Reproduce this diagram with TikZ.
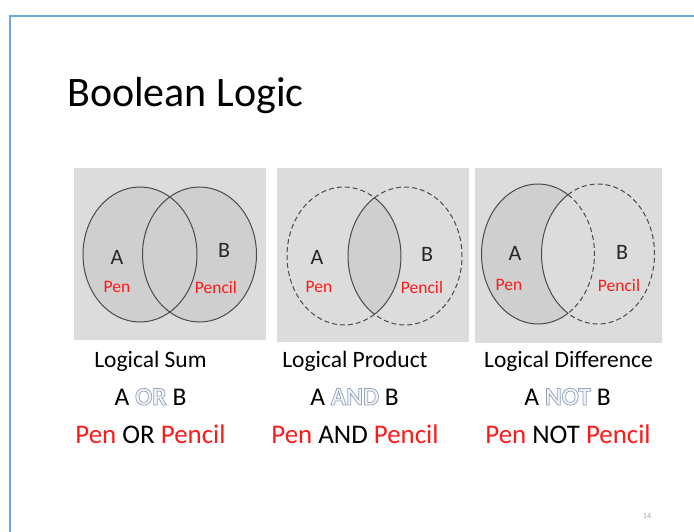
\documentclass[tikz,border=0pt]{standalone}
\usepackage{fontspec}
\setmainfont{Carlito}
\definecolor{slideblue}{HTML}{6FA8E0}
\definecolor{panelgray}{HTML}{DCDCDC}
\definecolor{ellfill}{HTML}{CFCFCF}
\definecolor{ellline}{HTML}{4A4A4A}
\definecolor{penred}{HTML}{FF1A1A}
\definecolor{outfill}{HTML}{F2F4F7}
\definecolor{pagenum}{HTML}{A0A0A0}
\newcommand\fsz[1]{\fontsize{#1}{#1}\selectfont}
\newcommand\outl[1]{{\color{outfill}\special{pdf:code q 2 Tr 0.75 w 0.58 0.64 0.73 RG}\bfseries #1\special{pdf:code Q}}}
\tikzset{
  panel/.style={fill=panelgray},
  ell/.style={draw=ellline, line width=1pt},
  dsh/.style={ell, dash pattern=on 5pt off 3pt},
  inlab/.style={font=\fsz{22}, text=black!85, inner sep=0},
  penlab/.style={font=\fsz{17.5}, text=penred, inner sep=0},
  captxt/.style={font=\fsz{23.5}, anchor=base, inner sep=0},
  expr/.style={font=\fsz{25.5}, anchor=base, inner sep=0},
  ex2/.style={font=\fsz{26.9}, anchor=base, inner sep=0},
}
\begin{document}
\begin{tikzpicture}[x=1pt,y=-1pt]
\useasboundingbox (0,0) rectangle (694,532);
\fill[white] (0,0) rectangle (694,532);
\draw[slideblue, line width=1.7pt] (10,532) -- (10,15.8) -- (694,15.8);

\node[anchor=base west, inner sep=0, font=\fsz{42}] (title) at (67,107) {Boolean Logic};

% panels
\fill[panel] (74,168) rectangle (266,340);
\fill[panel] (277,168) rectangle (469,341.5);
\fill[panel] (475,168) rectangle (661.5,343);

% panel 1: union
\fill[ellfill] (140,254.5) ellipse [x radius=57, y radius=67.5];
\fill[ellfill] (199.5,254.5) ellipse [x radius=57, y radius=67.5];
\draw[ell] (140,254.5) ellipse [x radius=57, y radius=67.5];
\draw[ell] (199.5,254.5) ellipse [x radius=57, y radius=67.5];
\node[inlab] (a1) at (117,257) {A};
\node[penlab] (p1) at (117,287) {Pen};
\node[inlab] (b1) at (224,250) {B};
\node[penlab] (q1) at (216,287) {Pencil};

% panel 2: intersection
\fill[ellfill] (405,256) ++(122.35:57 and 69)
  arc[start angle=122.35, end angle=237.65, x radius=57, y radius=69]
  arc[start angle=-57.65, end angle=57.65, x radius=57, y radius=69] -- cycle;
\draw[ell] (405,256) ++(122.35:57 and 69)
  arc[start angle=122.35, end angle=237.65, x radius=57, y radius=69]
  arc[start angle=-57.65, end angle=57.65, x radius=57, y radius=69];
\draw[dsh] (344,256) ++(57.65:57 and 69)
  arc[start angle=57.65, end angle=302.35, x radius=57, y radius=69];
\draw[dsh] (405,256) ++(-122.35:57 and 69)
  arc[start angle=-122.35, end angle=122.35, x radius=57, y radius=69];
\node[inlab] (a2) at (317,257) {A};
\node[penlab] (p2) at (319,287) {Pen};
\node[inlab] (b2) at (427,254) {B};
\node[penlab] (q2) at (422,287) {Pencil};

% panel 3: difference
\fill[ellfill] (538,254) ++(57.9:56.5 and 70)
  arc[start angle=57.9, end angle=302.1, x radius=56.5, y radius=70]
  arc[start angle=237.9, end angle=122.1, x radius=56.5, y radius=70] -- cycle;
\draw[ell] (538,254) ++(57.9:56.5 and 70)
  arc[start angle=57.9, end angle=302.1, x radius=56.5, y radius=70];
\draw[ell] (598,254) ++(122.1:56.5 and 70)
  arc[start angle=122.1, end angle=237.9, x radius=56.5, y radius=70];
\draw[dsh] (538,254) ++(-57.9:56.5 and 70)
  arc[start angle=-57.9, end angle=57.9, x radius=56.5, y radius=70];
\draw[dsh] (598,254) ++(-122.1:56.5 and 70)
  arc[start angle=-122.1, end angle=122.1, x radius=56.5, y radius=70];
\node[inlab] (a3) at (515,253) {A};
\node[penlab] (p3) at (509,285) {Pen};
\node[inlab] (b3) at (622,252) {B};
\node[penlab] (q3) at (619,285) {Pencil};

% captions
\node[captxt] (c1) at (150.5,367) {Logical Sum};
\node[captxt] (c2) at (355,367) {Logical Product};
\node[captxt] (c3) at (568.5,367) {Logical Difference};

\node[expr] (e1) at (150.5,405) {A \outl{OR} B};
\node[expr] (e2) at (354.5,405) {A \outl{AND} B};
\node[expr] (e3) at (567.5,405) {A \outl{NOT} B};

\node[ex2] (f1) at (150.5,443) {\textcolor{penred}{Pen} OR \textcolor{penred}{Pencil}};
\node[ex2] (f2) at (355,443) {\textcolor{penred}{Pen} AND \textcolor{penred}{Pencil}};
\node[ex2] (f3) at (568,443) {\textcolor{penred}{Pen} NOT \textcolor{penred}{Pencil}};

\node[font=\fsz{8}, text=pagenum, inner sep=0] (pg) at (647,516) {14};
\end{tikzpicture}
\end{document}
